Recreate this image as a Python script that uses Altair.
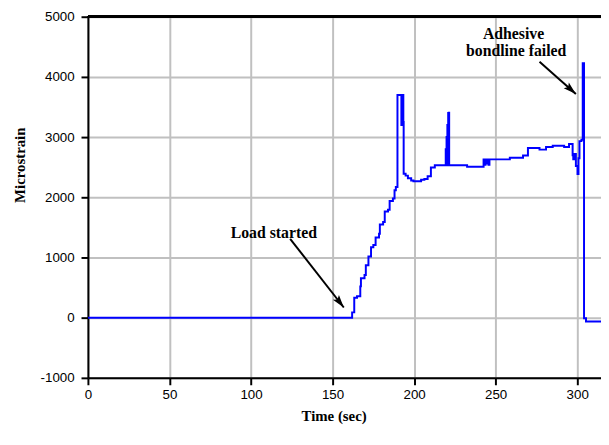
import math
import altair as alt
import pandas as pd

# ---- data ----
time_sec = [0, 161, 162, 163.3, 165, 167, 167.4, 169.6, 170.4, 172, 173.6, 175,
            176.4, 178.5, 179, 181, 182, 184, 185, 187, 188, 188.8,
            189.8, 192.2, 192.4, 192.6, 192.8, 193.0, 193.2, 193.4, 193.6,
            194.8, 196.2, 198.2, 199.6, 204.3, 206.3, 208.3, 210.3, 212.7,
            219.4, 219.6, 219.9, 220.1, 220.4, 220.6, 220.9, 221.1, 221.3, 221.5,
            232.5, 242.6, 243.2, 243.8, 244.4, 245.0, 245.6, 246.2,
            258.7, 266.8, 269.8, 276.9, 280.9, 285, 292, 295,
            297.2, 297.6, 298.4, 299.2, 300.2, 300.8, 301.4, 302.6,
            303.4, 304.2, 305.4, 314.6]
microstrain = [0, 0, 88, 331, 357, 520, 656, 709, 872, 1018, 1169, 1208,
               1331, 1396, 1549, 1591, 1765, 1792, 1938, 1981, 2117, 2170,
               3700, 3200, 3700, 3200, 3700, 3200, 3700, 3250, 2390,
               2360, 2317, 2279, 2268, 2290, 2305, 2349, 2495, 2532,
               2800, 2532, 3000, 2532, 3200, 2532, 3400, 2532, 3404, 2532,
               2506, 2630, 2540, 2630, 2560, 2630, 2540, 2630,
               2657, 2695, 2820, 2792, 2836, 2857, 2836, 2885,
               2700, 2630, 2720, 2520, 2386, 2650, 2933, 2955,
               4227, -10, -65, -65]

x_ticks = [0, 50, 100, 150, 200, 250, 300]
y_ticks = [-1000, 0, 1000, 2000, 3000, 4000, 5000]
x_domain = [0, 314.6]
y_domain = [-1000, 5000]

label_text = ["Load started", "Adhesive", "bondline failed"]
label_t = [114.0, 261.0, 262.6]
label_v = [1407, 4719, 4427]

arrow_t1 = [124.0, 276.9]
arrow_v1 = [1310, 4253]
arrow_t2 = [156.9, 299.2]
arrow_v2 = [169, 3718]

W, H = 520, 366

def head_angle(t1, v1, t2, v2):
    dx = (t2 - t1) * W / (x_domain[1] - x_domain[0])
    dy = -(v2 - v1) * H / (y_domain[1] - y_domain[0])
    return math.degrees(math.atan2(dx, -dy)) % 360

arrow_angle = [head_angle(a, b, c, d) for a, b, c, d in zip(arrow_t1, arrow_v1, arrow_t2, arrow_v2)]

series = pd.DataFrame({"t": time_sec, "v": microstrain})
labels = pd.DataFrame({"text": label_text, "t": label_t, "v": label_v})
arrows = pd.DataFrame({"t1": arrow_t1, "v1": arrow_v1, "t2": arrow_t2, "v2": arrow_v2,
                       "ang": arrow_angle})

xs = alt.Scale(domain=x_domain, nice=False, zero=False)
ys = alt.Scale(domain=y_domain, nice=False, zero=False)

x_axis = alt.Axis(values=x_ticks, grid=True, gridColor="#c0c0c0", gridWidth=2,
                  domainColor="black", domainWidth=2, tickColor="black", tickWidth=2,
                  tickSize=7, labelFont="Liberation Sans", labelFontSize=13.5,
                  labelColor="black", labelPadding=3, labelFlush=False,
                  labelOverlap=False, labelExpr="'' + datum.value",
                  title="Time (sec)", titleFont="Liberation Serif",
                  titleFontSize=15, titleFontWeight="bold", titleColor="black",
                  titleX=249, titleY=38, titleBaseline="middle", titleAlign="center")
y_axis = alt.Axis(values=y_ticks, grid=True, gridColor="#c0c0c0", gridWidth=2,
                  domainColor="black", domainWidth=2, tickColor="black", tickWidth=2,
                  tickSize=7, labelFont="Liberation Sans", labelFontSize=13.5,
                  labelColor="black", labelPadding=7, labelFlush=False,
                  labelOverlap=False, labelExpr="'' + datum.value",
                  title="Microstrain", titleFont="Liberation Serif",
                  titleFontSize=15, titleFontWeight="bold", titleColor="black",
                  titleX=-69.5, titleY=150, titleAngle=270, titleBaseline="middle",
                  titleAlign="center")

line = alt.Chart(series).mark_line(color="#0000FF", strokeWidth=2,
                                   interpolate="step-after", clip=True).encode(
    x=alt.X("t:Q", scale=xs, axis=x_axis),
    y=alt.Y("v:Q", scale=ys, axis=y_axis),
)

top_border = alt.Chart(series).mark_rule(color="black", strokeWidth=2).encode(
    y=alt.datum(y_domain[1], scale=ys, axis=y_axis)
)

txt = alt.Chart(labels).mark_text(font="Liberation Serif", fontSize=16,
                                  fontWeight="bold", color="black",
                                  align="center", baseline="middle").encode(
    x=alt.X("t:Q", scale=xs, axis=x_axis),
    y=alt.Y("v:Q", scale=ys, axis=y_axis),
    text="text:N",
)

shaft = alt.Chart(arrows).mark_rule(color="black", strokeWidth=2).encode(
    x=alt.X("t1:Q", scale=xs, axis=x_axis),
    y=alt.Y("v1:Q", scale=ys, axis=y_axis),
    x2="t2:Q",
    y2="v2:Q",
)

head = alt.Chart(arrows).mark_point(shape="M0,0L0.3,1L0,0.8L-0.3,1Z", size=676,
                                    filled=True, color="black", opacity=1,
                                    strokeWidth=0).encode(
    x=alt.X("t2:Q", scale=xs, axis=x_axis),
    y=alt.Y("v2:Q", scale=ys, axis=y_axis),
    angle=alt.Angle("ang:Q", scale=None),
)

chart = alt.layer(line, top_border, shaft, head, txt).properties(
    width=W, height=H,
    autosize=alt.AutoSizeParams(type="none"),
    padding={"left": 81, "top": 6, "right": 0, "bottom": 50},
    background="white",
).configure_view(stroke=None)

chart.save("out.html", embed_options={"renderer": "svg", "actions": False})
